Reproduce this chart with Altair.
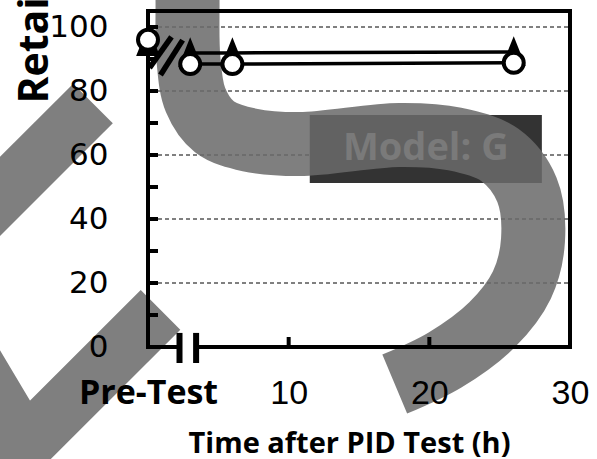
import altair as alt
import pandas as pd

# ---- measured values -------------------------------------------------------
hours = [0, 3, 6, 26]                      # 0 = Pre-Test
triangle_vals = [95.3, 91.9, 91.9, 92.2]   # retained value, triangle series
circle_vals = [96.0, 88.4, 88.4, 88.8]     # retained value, circle series

x_label_values = [0, 10, 20, 30]
x_tick_values = [10, 20]
y_label_values = [0, 20, 40, 60, 80, 100]
y_tick_values = [10, 20, 30, 40, 50, 60, 70, 80, 90, 100]
grid_values = [20, 40, 60, 80, 100]

X_MAX = 30
Y_MAX = 105

# axis break on the time axis (between Pre-Test and the first reading)
break_h = [2.24, 3.42]
# "//" break marks on the data lines
slash_h = [0.11, 0.89]
slash_h2 = [1.67, 2.46]
slash_v = [87.2, 85.0]
slash_v2 = [96.9, 95.9]

# annotation box
model_text = "Model: G"
box_h, box_h2, box_v, box_v2 = 11.5, 28.0, 72.5, 51.25
text_h, text_v = 19.75, 61.9

# large grey "S" stroke and diagonal strokes drawn behind the plot
s_h = [2.81, 2.81, 2.88, 3.38, 4.73, 7.22, 10.78, 17.86, 21.81, 25.02, 26.94,
       27.37, 26.58, 24.45, 21.10, 17.54]
s_v = [120.9, 108.4, 89.7, 77.2, 68.8, 64.7, 63.4, 66.25, 65.0, 60.0, 49.1,
       33.4, 19.4, 6.9, -4.1, -11.6]
band_id = ["a", "a", "b", "b", "b"]
band_h = [-3.91, -14.84, 0.89, -8.79, -13.77]
band_v = [76.1, 28.1, 11.6, -30.9, 5.9]

# ---- tables ----------------------------------------------------------------
series = pd.DataFrame({
    "h": hours * 2,
    "v": triangle_vals + circle_vals,
    "series": ["triangle"] * len(hours) + ["circle"] * len(hours),
})
tri = series[series.series == "triangle"]
cir = series[series.series == "circle"]
lines_df = series[series.h > 0]

frame = pd.DataFrame({
    "h": [0, 0, X_MAX, 0, break_h[1]],
    "h2": [0, X_MAX, X_MAX, break_h[0], X_MAX],
    "v": [0, Y_MAX, 0, 0, 0],
    "v2": [Y_MAX, Y_MAX, Y_MAX, 0, 0],
})
break_bars = pd.DataFrame({"h": break_h, "v": [4.4, 4.4], "v2": [-5, -5]})
slashes = pd.DataFrame({"h": slash_h, "h2": slash_h2, "v": slash_v, "v2": slash_v2})
grid = pd.DataFrame({"v": grid_values})
yticks = pd.DataFrame({"v": y_tick_values})
xticks = pd.DataFrame({"h": x_tick_values})
box = pd.DataFrame({"h": [box_h], "h2": [box_h2], "v": [box_v], "v2": [box_v2]})
label = pd.DataFrame({"h": [text_h], "v": [text_v], "t": [model_text]})
s_path = pd.DataFrame({"h": s_h, "v": s_v, "i": list(range(len(s_h)))})
bands = pd.DataFrame({"h": band_h, "v": band_v, "band": band_id,
                      "i": list(range(len(band_h)))})

# ---- scales and axes -------------------------------------------------------
xs = alt.Scale(domain=[0, X_MAX], nice=False, zero=False)
ys = alt.Scale(domain=[0, Y_MAX], nice=False, zero=False)

x_axis = alt.Axis(
    values=x_label_values,
    labelExpr="datum.value == 0 ? 'Pre-Test' : datum.label",
    labelFont={"condition": {"test": "datum.value == 0", "value": "Open Sans"},
               "value": "Liberation Sans"},
    labelFontWeight={"condition": {"test": "datum.value == 0", "value": "bold"},
                     "value": "normal"},
    labelFontSize=34, labelColor="black", labelPadding=29,
    labelFlush=False, labelOverlap=False,
    domain=False, ticks=False, tickSize=0, grid=False,
    title="Time after PID Test (h)", titleFont="Open Sans", titleFontSize=29,
    titleFontWeight="bold", titleColor="black", titleAlign="center",
    titleBaseline="alphabetic", titleX=201, titleY=105, zindex=1,
)
y_axis = alt.Axis(
    values=y_label_values,
    labelFont="DejaVu Sans", labelFontSize=31, labelColor="black",
    labelPadding=40, labelFlush=False,
    domain=False, ticks=False, tickSize=0, grid=False,
    title="Retained Pmax (%)", titleFont="Open Sans", titleFontSize=41,
    titleFontWeight="bold", titleColor="black", titleAngle=270,
    titleAlign="left", titleBaseline="alphabetic", titleX=-101, titleY=92,
    zindex=1,
)


def X(field="h"):
    return alt.X(f"{field}:Q", scale=xs, axis=x_axis)


def Y(field="v"):
    return alt.Y(f"{field}:Q", scale=ys, axis=y_axis)


# ---- layers ----------------------------------------------------------------
grid_layer = alt.Chart(grid).mark_rule(
    color="black", strokeWidth=1, strokeDash=[4, 3]
).encode(y=Y(), x=alt.value(10), x2=alt.value(422))

box_layer = alt.Chart(box).mark_rect(color="#333333").encode(
    x=X(), x2="h2:Q", y=Y(), y2="v2:Q")

s_layer = alt.Chart(s_path).mark_line(
    color="#6a6a6a", opacity=0.86, strokeWidth=64, strokeCap="butt",
    strokeJoin="round", interpolate="catmull-rom", clip=False
).encode(x=X(), y=Y(), order="i:Q")

band_layer = alt.Chart(bands).mark_line(
    color="#6a6a6a", opacity=0.86, strokeWidth=56, strokeCap="butt",
    strokeJoin="miter", clip=False
).encode(x=X(), y=Y(), detail="band:N", order="i:Q")

text_layer = alt.Chart(label).mark_text(
    font="Open Sans", fontSize=38, fontWeight="bold", color="#7a7a7a",
    align="center", baseline="middle"
).encode(x=X(), y=Y(), text="t:N")

frame_layer = alt.Chart(frame).mark_rule(
    color="black", strokeWidth=4, strokeCap="square"
).encode(x=X(), x2="h2:Q", y=Y(), y2="v2:Q")

ytick_layer = alt.Chart(yticks).mark_rule(color="black", strokeWidth=4).encode(
    y=Y(), x=alt.value(0), x2=alt.value(10))

xtick_layer = alt.Chart(xticks).mark_rule(color="black", strokeWidth=4).encode(
    x=X(), y=alt.value(326), y2=alt.value(336))

bar_layer = alt.Chart(break_bars).mark_rule(
    color="black", strokeWidth=6, clip=False
).encode(x=X(), y=Y(), y2="v2:Q")

line_layer = alt.Chart(lines_df).mark_line(
    color="black", strokeWidth=3.5
).encode(x=X(), y=Y(), detail="series:N")

tri_layer = alt.Chart(tri).mark_point(
    shape="M0,-1L-0.8,1L0.8,1Z", size=676, filled=True, fill="black",
    stroke="black", strokeWidth=2, opacity=1
).encode(x=X(), y=Y())

cir_layer = alt.Chart(cir).mark_point(
    shape="circle", size=400, filled=True, fill="white", stroke="black",
    strokeWidth=4, opacity=1
).encode(x=X(), y=Y())

slash_layer = alt.Chart(slashes).mark_rule(
    color="black", strokeWidth=5.5
).encode(x=X(), x2="h2:Q", y=Y(), y2="v2:Q")

chart = alt.layer(
    grid_layer, box_layer, s_layer, band_layer, text_layer, frame_layer,
    ytick_layer, xtick_layer, bar_layer, line_layer, tri_layer, cir_layer,
    slash_layer,
).properties(
    width=422, height=336,
    autosize=alt.AutoSizeParams(type="none"),
    padding={"left": 148, "top": 11, "right": 27, "bottom": 112},
    background="white",
).configure_view(stroke=None)

chart.save("out.html", embed_options={"renderer": "svg", "actions": False})
